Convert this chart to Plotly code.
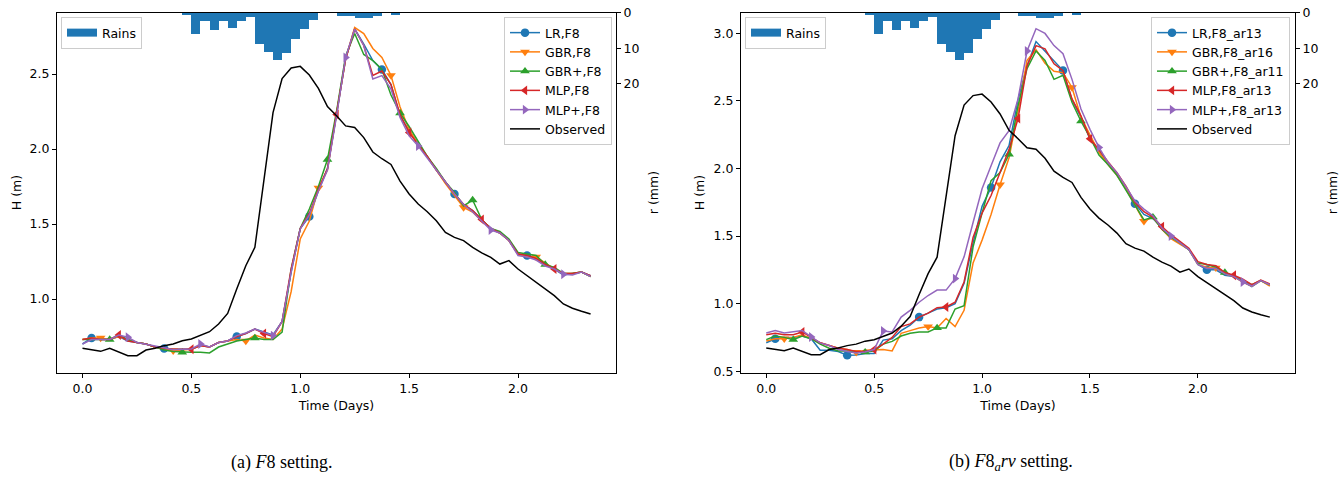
import plotly.graph_objects as go

# Hourly time axis (days)
hours = list(range(57))
time_days = [h / 24 for h in hours]

# Observed water level H (m)
observed = [0.671, 0.66, 0.651, 0.671, 0.645, 0.622, 0.622, 0.66, 0.672, 0.689,
            0.70, 0.722, 0.733, 0.756, 0.782, 0.833, 0.904, 1.067, 1.222, 1.344,
            1.79, 2.243, 2.47, 2.54, 2.551, 2.493, 2.404, 2.283, 2.221, 2.154,
            2.143, 2.076, 1.98, 1.935, 1.897, 1.786, 1.70, 1.633, 1.582, 1.522,
            1.444, 1.411, 1.389, 1.344, 1.307, 1.278, 1.233, 1.256, 1.20, 1.156,
            1.111, 1.071, 1.022, 0.967, 0.938, 0.918, 0.90]

# Hourly rainfall r (mm), bars starting at hour 11
rain_hours = list(range(11, 35))
rain_time = [h / 24 for h in rain_hours]
rain_mm = [0.5, 6.0, 2.3, 4.8, 2.1, 4.3, 2.2, 1.0, 8.6, 11.0,
           13.2, 11.3, 7.4, 4.5, 2.0, 0.0, 0.0, 0.9, 0.9, 1.3,
           1.5, 0.9, 0.0, 0.4]

# (a) F8 setting
lr_f8 = [0.70, 0.74, 0.73, 0.73, 0.75, 0.72, 0.71, 0.70, 0.68, 0.67,
         0.665, 0.665, 0.665, 0.69, 0.68, 0.71, 0.72, 0.75, 0.77, 0.80,
         0.78, 0.76, 0.85, 1.18, 1.47, 1.55, 1.72, 1.87, 2.23, 2.60,
         2.80, 2.70, 2.59, 2.53, 2.43, 2.22, 2.12, 2.03, 1.95, 1.86,
         1.78, 1.70, 1.63, 1.59, 1.53, 1.47, 1.44, 1.39, 1.30, 1.29,
         1.27, 1.23, 1.20, 1.16, 1.17, 1.18, 1.155]
gbr_f8 = [0.73, 0.74, 0.74, 0.73, 0.75, 0.73, 0.71, 0.70, 0.68, 0.67,
          0.655, 0.66, 0.665, 0.69, 0.68, 0.71, 0.72, 0.73, 0.72, 0.76,
          0.74, 0.73, 0.80, 1.05, 1.40, 1.52, 1.74, 1.86, 2.24, 2.60,
          2.81, 2.77, 2.67, 2.61, 2.49, 2.28, 2.13, 2.03, 1.95, 1.86,
          1.77, 1.69, 1.61, 1.58, 1.52, 1.47, 1.44, 1.39, 1.30, 1.28,
          1.28, 1.24, 1.20, 1.17, 1.17, 1.18, 1.15]
gbrp_f8 = [0.73, 0.73, 0.73, 0.73, 0.76, 0.73, 0.71, 0.70, 0.68, 0.66,
           0.65, 0.645, 0.645, 0.645, 0.64, 0.68, 0.70, 0.72, 0.73, 0.74,
           0.73, 0.73, 0.78, 1.20, 1.47, 1.60, 1.75, 1.93, 2.25, 2.62,
           2.77, 2.63, 2.59, 2.53, 2.36, 2.24, 2.15, 2.05, 1.95, 1.87,
           1.78, 1.71, 1.62, 1.66, 1.53, 1.47, 1.45, 1.40, 1.31, 1.30,
           1.29, 1.23, 1.21, 1.17, 1.17, 1.18, 1.15]
mlp_f8 = [0.73, 0.74, 0.73, 0.73, 0.76, 0.72, 0.71, 0.70, 0.68, 0.67,
          0.665, 0.665, 0.665, 0.69, 0.68, 0.71, 0.72, 0.75, 0.77, 0.80,
          0.77, 0.75, 0.85, 1.20, 1.47, 1.57, 1.73, 1.87, 2.23, 2.60,
          2.80, 2.69, 2.49, 2.52, 2.43, 2.23, 2.11, 2.03, 1.95, 1.86,
          1.78, 1.70, 1.63, 1.59, 1.53, 1.47, 1.44, 1.39, 1.30, 1.29,
          1.27, 1.23, 1.20, 1.17, 1.17, 1.18, 1.155]
mlpp_f8 = [0.70, 0.73, 0.73, 0.73, 0.76, 0.745, 0.71, 0.70, 0.69, 0.675,
           0.662, 0.665, 0.667, 0.70, 0.68, 0.71, 0.72, 0.756, 0.773, 0.80,
           0.778, 0.756, 0.85, 1.18, 1.467, 1.56, 1.72, 1.86, 2.22, 2.61,
           2.80, 2.69, 2.467, 2.489, 2.40, 2.21, 2.087, 2.02, 1.94, 1.86,
           1.78, 1.70, 1.63, 1.58, 1.52, 1.46, 1.44, 1.39, 1.29, 1.28,
           1.26, 1.22, 1.20, 1.165, 1.16, 1.18, 1.15]

# (b) F8_arν setting
lr_ar = [0.71, 0.74, 0.75, 0.75, 0.76, 0.74, 0.655, 0.655, 0.645, 0.617,
         0.62, 0.63, 0.63, 0.73, 0.74, 0.80, 0.84, 0.90, 0.93, 0.96,
         0.97, 1.0, 1.15, 1.45, 1.72, 1.86, 2.05, 2.17, 2.51, 2.76,
         2.94, 2.87, 2.80, 2.725, 2.51, 2.38, 2.22, 2.13, 2.04, 1.96,
         1.86, 1.74, 1.66, 1.63, 1.56, 1.50, 1.45, 1.40, 1.29, 1.25,
         1.25, 1.21, 1.20, 1.16, 1.125, 1.17, 1.135]
gbr_ar = [0.723, 0.74, 0.74, 0.75, 0.77, 0.74, 0.71, 0.69, 0.67, 0.66,
          0.64, 0.655, 0.66, 0.66, 0.65, 0.78, 0.80, 0.82, 0.83, 0.82,
          0.89, 0.83, 0.95, 1.30, 1.47, 1.66, 1.88, 2.08, 2.42, 2.80,
          2.88, 2.78, 2.72, 2.71, 2.60, 2.38, 2.25, 2.12, 2.03, 1.95,
          1.85, 1.73, 1.61, 1.64, 1.55, 1.48, 1.44, 1.40, 1.29, 1.27,
          1.265, 1.22, 1.20, 1.16, 1.13, 1.17, 1.13]
gbrp_ar = [0.733, 0.76, 0.75, 0.733, 0.76, 0.74, 0.70, 0.67, 0.65, 0.65,
           0.64, 0.64, 0.65, 0.70, 0.72, 0.76, 0.78, 0.79, 0.79, 0.82,
           0.82, 0.96, 0.985, 1.42, 1.67, 1.91, 1.97, 2.105, 2.465, 2.74,
           2.87, 2.80, 2.66, 2.69, 2.49, 2.35, 2.23, 2.10, 2.03, 1.95,
           1.84, 1.73, 1.62, 1.64, 1.55, 1.49, 1.45, 1.40, 1.30, 1.29,
           1.27, 1.23, 1.20, 1.17, 1.14, 1.17, 1.14]
mlp_ar = [0.77, 0.78, 0.77, 0.77, 0.79, 0.75, 0.71, 0.69, 0.67, 0.66,
          0.645, 0.645, 0.66, 0.70, 0.75, 0.83, 0.85, 0.90, 0.93, 0.97,
          0.975, 1.01, 1.16, 1.49, 1.67, 1.80, 1.97, 2.14, 2.37, 2.76,
          2.91, 2.886, 2.775, 2.725, 2.515, 2.39, 2.22, 2.14, 2.05, 1.97,
          1.87, 1.75, 1.68, 1.64, 1.57, 1.51, 1.46, 1.41, 1.31, 1.29,
          1.28, 1.23, 1.21, 1.18, 1.14, 1.175, 1.145]
mlpp_ar = [0.783, 0.80, 0.783, 0.79, 0.80, 0.753, 0.709, 0.69, 0.66, 0.645,
           0.635, 0.642, 0.66, 0.797, 0.79, 0.90, 0.95, 1.01, 1.06, 1.10,
           1.10, 1.185, 1.346, 1.60, 1.85, 2.02, 2.19, 2.28, 2.515, 2.87,
           3.035, 3.0, 2.91, 2.85, 2.66, 2.44, 2.29, 2.156, 2.045, 1.97,
           1.87, 1.76, 1.70, 1.65, 1.56, 1.50, 1.45, 1.40, 1.29, 1.26,
           1.26, 1.22, 1.20, 1.16, 1.13, 1.17, 1.14]

labels_a = ["LR,F8", "GBR,F8", "GBR+,F8", "MLP,F8", "MLP+,F8"]
labels_b = ["LR,F8_ar13", "GBR,F8_ar16", "GBR+,F8_ar11", "MLP,F8_ar13", "MLP+,F8_ar13"]
series_a = [lr_f8, gbr_f8, gbrp_f8, mlp_f8, mlpp_f8]
series_b = [lr_ar, gbr_ar, gbrp_ar, mlp_ar, mlpp_ar]

colors = ["#1f77b4", "#ff7f0e", "#2ca02c", "#d62728", "#9467bd"]
symbols = ["circle", "triangle-down", "triangle-up", "triangle-left", "triangle-right"]
MARK_STEP = 8
MARK_SIZE = 8.5

W, H = 1344, 477
FONT = "DejaVu Sans"
FS = 12.5


def px_x(p):
    return p / W


def px_y(p):
    return 1 - p / H


fig = go.Figure()


def add_panel(xa, ya, ya_rain, labels, series, leg_rain, leg_models):
    # model predictions: line + sparse markers + legend sample
    for k, (lab, ys) in enumerate(zip(labels, series)):
        fig.add_trace(go.Scatter(
            x=time_days, y=ys, mode="lines", xaxis=xa, yaxis=ya,
            line=dict(color=colors[k], width=1.5), showlegend=False,
            hoverinfo="skip"))
        idx = list(range(k + 1, len(ys), MARK_STEP))
        fig.add_trace(go.Scatter(
            x=[time_days[i] for i in idx], y=[ys[i] for i in idx],
            mode="markers", xaxis=xa, yaxis=ya,
            marker=dict(color=colors[k], symbol=symbols[k], size=MARK_SIZE,
                        line=dict(width=0)),
            showlegend=False, hoverinfo="skip"))
        fig.add_trace(go.Scatter(
            x=[None], y=[None], mode="lines+markers", name=lab,
            xaxis=xa, yaxis=ya, legend=leg_models, legendrank=k + 1,
            line=dict(color=colors[k], width=1.5),
            marker=dict(color=colors[k], symbol=symbols[k], size=MARK_SIZE)))
    fig.add_trace(go.Scatter(
        x=time_days, y=observed, mode="lines", name="Observed",
        xaxis=xa, yaxis=ya, legend=leg_models, legendrank=10,
        line=dict(color="black", width=1.5)))
    # rainfall bars on the inverted secondary axis
    fig.add_trace(go.Bar(
        x=rain_time, y=rain_mm, width=1 / 24, offset=0,
        xaxis=xa, yaxis=ya_rain, marker=dict(color="#1f77b4", line=dict(width=0)),
        showlegend=False, hoverinfo="skip"))
    fig.add_trace(go.Scatter(
        x=[None], y=[None], mode="lines", name="Rains",
        xaxis=xa, yaxis=ya_rain, legend=leg_rain,
        line=dict(color="#1f77b4", width=8)))


add_panel("x", "y", "y2", labels_a, series_a, "legend", "legend2")
add_panel("x2", "y3", "y4", labels_b, series_b, "legend3", "legend4")

top, bottom = 12.5, 372.5
dom_y = [px_y(bottom), px_y(top)]
dom_a = [px_x(57), px_x(616)]
dom_b = [px_x(741), px_x(1295)]

tickfont = dict(family=FONT, size=FS, color="black")
titlefont = dict(family=FONT, size=FS, color="black")
axis_common = dict(showgrid=False, zeroline=False, showline=True,
                   linecolor="black", linewidth=1, ticks="outside",
                   ticklen=4, tickwidth=1, tickcolor="black",
                   tickfont=tickfont, automargin=False)

xticks = [0.0, 0.5, 1.0, 1.5, 2.0]
x_range = [-0.117, 2.45]

fig.update_layout(
    width=W, height=H,
    margin=dict(l=0, r=0, t=0, b=0),
    paper_bgcolor="white", plot_bgcolor="white",
    font=dict(family=FONT, size=FS, color="black"),
    bargap=0,
    xaxis=dict(domain=dom_a, range=x_range, anchor="y", mirror=True,
               tickvals=xticks, tickformat=".1f",
               title=dict(text="Time (Days)", font=titlefont, standoff=6),
               **axis_common),
    yaxis=dict(domain=dom_y, range=[0.51, 2.91], anchor="x", mirror=False,
               tickvals=[1.0, 1.5, 2.0, 2.5], tickformat=".1f",
               title=dict(text="H (m)", font=titlefont, standoff=5),
               **axis_common),
    yaxis2=dict(range=[100.8, 0], overlaying="y", side="right", anchor="x",
                tickvals=[0, 10, 20],
                title=dict(text="r (mm)", font=titlefont, standoff=10),
                **axis_common),
    xaxis2=dict(domain=dom_b, range=x_range, anchor="y3", mirror=True,
                tickvals=xticks, tickformat=".1f",
                title=dict(text="Time (Days)", font=titlefont, standoff=6),
                **axis_common),
    yaxis3=dict(domain=dom_y, range=[0.49, 3.155], anchor="x2", mirror=False,
                tickvals=[0.5, 1.0, 1.5, 2.0, 2.5, 3.0], tickformat=".1f",
                title=dict(text="H (m)", font=titlefont, standoff=6),
                **axis_common),
    yaxis4=dict(range=[100.8, 0], overlaying="y3", side="right", anchor="x2",
                tickvals=[0, 10, 20],
                title=dict(text="r (mm)", font=titlefont, standoff=10),
                **axis_common),
)

legend_style = dict(bgcolor="rgba(255,255,255,0.8)", bordercolor="#cccccc",
                    borderwidth=1, font=dict(family=FONT, size=FS, color="black"),
                    yanchor="top", tracegroupgap=0)
fig.update_layout(
    legend=dict(x=px_x(61), y=px_y(17), xanchor="left", **legend_style),
    legend2=dict(x=px_x(612), y=px_y(17), xanchor="right", **legend_style),
    legend3=dict(x=px_x(745), y=px_y(17), xanchor="left", **legend_style),
    legend4=dict(x=px_x(1290), y=px_y(17), xanchor="right", **legend_style),
)

# sub-figure captions
caption_font = dict(family="Liberation Serif", size=18, color="black")
fig.add_annotation(text="(a) <i>F</i>8 setting.", x=px_x(281), y=px_y(462),
                   xref="paper", yref="paper", xanchor="center", yanchor="middle",
                   showarrow=False, font=caption_font)
fig.add_annotation(text="(b) <i>F</i>8<sub><i>a</i></sub><i>rν</i> setting.",
                   x=px_x(1011), y=px_y(462), xref="paper", yref="paper",
                   xanchor="center", yanchor="middle",
                   showarrow=False, font=caption_font)

fig.write_html("out.html")
